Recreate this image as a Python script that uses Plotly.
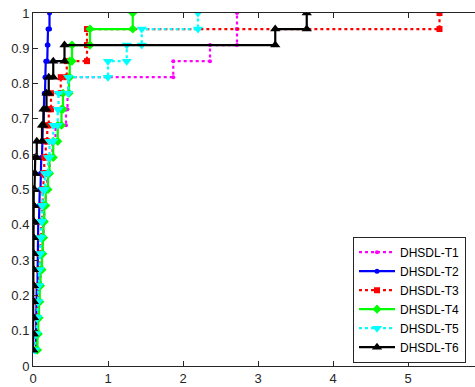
import plotly.graph_objects as go

n_samples = 22
names = ["DHSDL-T1", "DHSDL-T2", "DHSDL-T3", "DHSDL-T4", "DHSDL-T5", "DHSDL-T6"]

t1 = [0.02, 0.03, 0.04, 0.06, 0.08, 0.10, 0.12, 0.13, 0.14, 0.15, 0.17, 0.19, 0.22, 0.26, 0.30, 0.44, 0.46, 0.47, 1.87, 2.36, 2.72, 2.72]
t2 = [0.03, 0.04, 0.04, 0.05, 0.05, 0.06, 0.06, 0.07, 0.07, 0.08, 0.09, 0.10, 0.11, 0.12, 0.13, 0.14, 0.15, 0.16, 0.17, 0.19, 0.20, 0.22]
t3 = [0.03, 0.04, 0.05, 0.06, 0.07, 0.08, 0.09, 0.10, 0.11, 0.12, 0.13, 0.14, 0.15, 0.17, 0.19, 0.21, 0.24, 0.37, 0.45, 0.72, 0.72, 5.42]
t4 = [0.04, 0.06, 0.07, 0.08, 0.09, 0.10, 0.12, 0.13, 0.14, 0.15, 0.17, 0.20, 0.22, 0.27, 0.33, 0.38, 0.40, 0.48, 0.49, 0.52, 0.76, 1.33]
t5 = [0.02, 0.03, 0.05, 0.06, 0.07, 0.08, 0.09, 0.10, 0.11, 0.12, 0.13, 0.16, 0.20, 0.22, 0.27, 0.33, 0.34, 0.47, 1.00, 1.25, 1.45, 2.20]
t6 = [0.00, 0.00, 0.01, 0.01, 0.01, 0.01, 0.01, 0.01, 0.01, 0.01, 0.01, 0.02, 0.03, 0.05, 0.12, 0.14, 0.18, 0.21, 0.27, 0.42, 3.23, 3.65]

x_ticks = [0, 1, 2, 3, 4, 5]
y_ticks = [0, 0.1, 0.2, 0.3, 0.4, 0.5, 0.6, 0.7, 0.8, 0.9, 1]

series = [t1, t2, t3, t4, t5, t6]
colors = ["#FF00FF", "#0000FF", "#FF0000", "#00FF00", "#00FFFF", "#000000"]
dashes = ["dot", "solid", "dot", "solid", "dot", "solid"]
symbols = ["circle", "circle", "square", "diamond", "triangle-down", "triangle-up"]
msizes = [4, 5, 6, 7, 9, 9]


def staircase(xv):
    ys = [(k + 1) / n_samples for k in range(len(xv))]
    sx, sy = [xv[0]], [ys[0]]
    for k in range(1, len(xv)):
        sx += [xv[k], xv[k]]
        sy += [ys[k - 1], ys[k]]
    return sx, sy


fig = go.Figure()
for name, xv, c, d, s, m in zip(names, series, colors, dashes, symbols, msizes):
    sx, sy = staircase(xv)
    fig.add_trace(go.Scatter(
        x=sx, y=sy, mode="lines+markers", name=name,
        line=dict(color=c, width=2.2, dash=d),
        marker=dict(symbol=s, size=m, color=c, line=dict(width=0)),
    ))

axis_font = dict(family="Liberation Sans, Arial, sans-serif", size=13, color="#262626")
fig.update_layout(
    width=475, height=387,
    margin=dict(l=33, r=0, t=13, b=21),
    paper_bgcolor="white", plot_bgcolor="white",
    showlegend=True,
    legend=dict(
        x=0.724, y=0.188, xanchor="left", yanchor="middle",
        bgcolor="white", bordercolor="#262626", borderwidth=1,
        font=dict(family="Liberation Sans, Arial, sans-serif", size=12, color="#000000"),
        tracegroupgap=0, itemwidth=36,
    ),
    xaxis=dict(
        range=[0, 442 / 75], tickvals=x_ticks, ticktext=[str(v) for v in x_ticks],
        showgrid=False, zeroline=False, showline=True, linecolor="#262626", linewidth=1,
        mirror="ticks", ticks="inside", ticklen=5, tickcolor="#262626",
        tickfont=axis_font,
    ),
    yaxis=dict(
        range=[0, 1], tickvals=y_ticks, ticktext=[("%g" % v) for v in y_ticks],
        showgrid=False, zeroline=False, showline=True, linecolor="#262626", linewidth=1,
        mirror=False, ticks="inside", ticklen=5, tickcolor="#262626",
        tickfont=axis_font,
    ),
)

fig.write_html("out.html")
